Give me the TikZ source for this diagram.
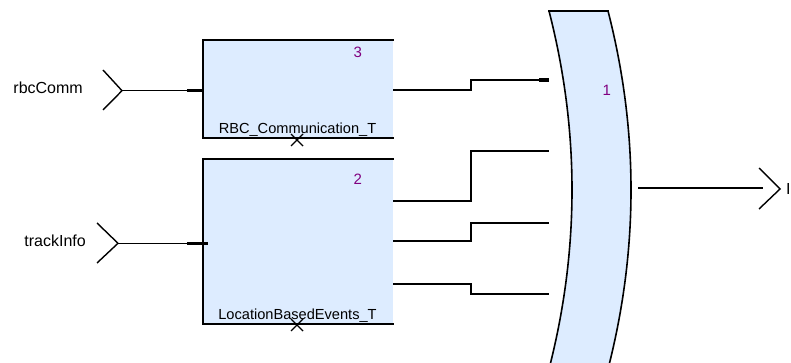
\documentclass[tikz,border=0pt]{standalone}
\usepackage{fontspec}
\setmainfont{Liberation Sans}
\definecolor{blockfill}{RGB}{221,236,255}
\definecolor{numcol}{RGB}{128,0,128}
\begin{document}
\begin{tikzpicture}[x=1pt,y=-1pt,
  blockbox/.style={fill=blockfill,draw=none,inner sep=0pt,minimum width=190pt},
  border/.style={line width=1.6pt,line cap=rect},
  wire/.style={line width=1.1pt},
  stub/.style={line width=1.8pt},
  fatstub/.style={line width=3.5pt},
  chev/.style={line width=1.4pt},
  portlbl/.style={font=\fontsize{16}{19}\selectfont,inner sep=0pt},
  blklbl/.style={font=\fontsize{14.6}{17}\selectfont,inner sep=0pt,anchor=base},
  numlbl/.style={font=\fontsize{15}{18}\selectfont,text=numcol,inner sep=0pt,anchor=base},
  xmark/.style={line width=1.4pt}]
\useasboundingbox (0,0) rectangle (791,363);
\begin{scope}
\clip (0,0) rectangle (791,363);
% big block 1
\fill[blockfill] (549,11) -- (608,11) .. controls (638.67,130.33) and (638.67,249.67) .. (608,369)
  -- (549,369) .. controls (579.67,249.67) and (579.67,130.33) .. (549,11) -- cycle;
\draw[border] (549,11) .. controls (579.67,130.33) and (579.67,249.67) .. (549,369);
\draw[border] (608,11) .. controls (638.67,130.33) and (638.67,249.67) .. (608,369);
\draw[border,line cap=butt] (548.3,11) -- (608.7,11);
\end{scope}
\node[numlbl] (n1) at (606.7,96) {1};

% block 3
\node[blockbox,minimum height=98pt] (b3) at (298,89) {};
\draw[border] (b3.north east) -- (b3.north west) -- (b3.south west) -- (b3.south east);
\node[numlbl] (n3) at (357.7,57.3) {3};
\node[blklbl] (l3) at (297.5,133.3) {RBC\_Communication\_T};
\coordinate (x3) at (297,140);
\draw[xmark] ([shift={(-6,-6)}]x3) -- ([shift={(6,6)}]x3) ([shift={(-6,6)}]x3) -- ([shift={(6,-6)}]x3);

% block 2
\node[blockbox,minimum height=165pt] (b2) at (298,241.5) {};
\draw[border] (b2.north east) -- (b2.north west) -- (b2.south west) -- (b2.south east);
\node[numlbl] (n2) at (357.7,184.7) {2};
\node[blklbl] (l2) at (297.5,319.3) {LocationBasedEvents\_T};
\coordinate (x2) at (297,325);
\draw[xmark] ([shift={(-6,-6)}]x2) -- ([shift={(6,6)}]x2) ([shift={(-6,6)}]x2) -- ([shift={(6,-6)}]x2);

% input ports
\node[portlbl,anchor=base east] (rbcComm) at (83,93.3) {rbcComm};
\coordinate (i3tip) at (122,90.7);
\coordinate (i3in) at (203,90.7);
\draw[chev] (103,70) -- (i3tip) -- (103,110);
\draw[wire] (i3tip) -- (187,90.7);
\draw[fatstub] (187,90.7) -- (i3in);

\node[portlbl,anchor=base east] (trackInfo) at (86,246.7) {trackInfo};
\coordinate (i2tip) at (118,243.3);
\coordinate (i2in) at (208,243.3);
\draw[chev] (97,223) -- (i2tip) -- (97,263);
\draw[wire] (i2tip) -- (187,243.3);
\draw[fatstub] (187,243.3) -- (i2in);

% outputs of blocks
\coordinate (o3) at (393,90);
\coordinate (o2a) at (393,201);
\coordinate (o2b) at (393,241);
\coordinate (o2c) at (393,284);
% inputs of block 1
\coordinate (p1) at (549,80);
\coordinate (p2) at (549,151);
\coordinate (p3) at (549,223);
\coordinate (p4) at (549,294);

\draw[wire] (o3) -| (471,80) -- (p1);
\draw[wire] (o2a) -| (471,151) -- (p2);
\draw[wire] (o2b) -| (471,223) -- (p3);
\draw[wire] (o2c) -| (471,294) -- (p4);
\draw[stub] (o3) -- ++(15,0);
\draw[stub] (o2a) -- ++(15,0);
\draw[stub] (o2b) -- ++(15,0);
\draw[stub] (o2c) -- ++(15,0);
\draw[fatstub] (539,80) -- (p1);
\draw[stub] (539,151) -- (p2);
\draw[stub] (539,223) -- (p3);
\draw[stub] (539,294) -- (p4);

% output of block 1
\coordinate (q1) at (638,188);
\coordinate (otip) at (780,189);
\draw[wire] (q1) -- (763,188);
\draw[stub] (q1) -- ++(12,0);
\draw[stub] (752,188) -- (763,188);
\draw[chev] (759,168) -- (otip) -- (759,209);
\node[portlbl,anchor=base west] (outlbl) at (786,195) {I};
\end{tikzpicture}
\end{document}
